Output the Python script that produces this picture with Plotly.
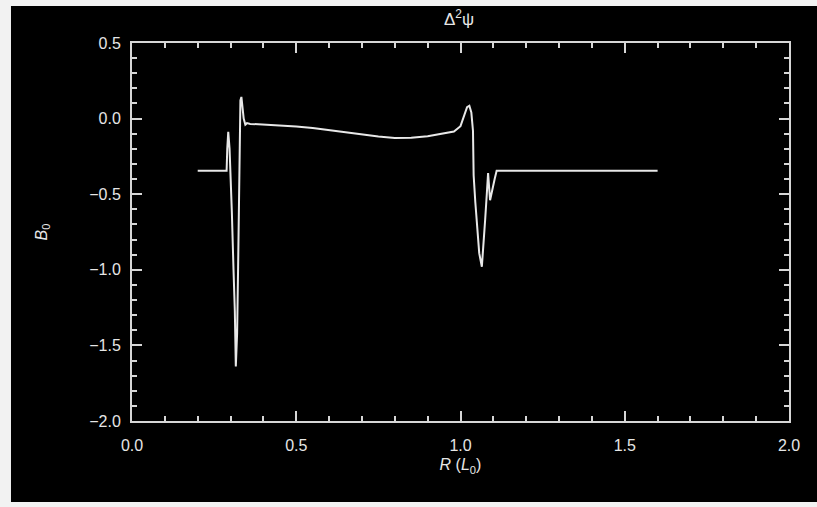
import plotly.graph_objects as go

# Data: R (L0) vs value
r_vals = [0.20, 0.288, 0.290, 0.293, 0.297, 0.300, 0.304, 0.309, 0.313, 0.316, 0.320,
          0.323, 0.327, 0.330, 0.333, 0.336, 0.340, 0.345, 0.350, 0.360, 0.37,
          0.45, 0.50, 0.55, 0.60, 0.65, 0.70, 0.75, 0.80, 0.85, 0.90, 0.95,
          0.98, 1.00, 1.01, 1.02, 1.027, 1.033, 1.038, 1.040, 1.045, 1.049,
          1.057, 1.065, 1.070, 1.075, 1.080, 1.084, 1.090, 1.095, 1.099, 1.104,
          1.110, 1.60]
b_vals = [-0.345, -0.345, -0.20, -0.087, -0.20, -0.35, -0.62, -1.00, -1.27, -1.64, -1.42,
          -0.98, -0.31, 0.12, 0.143, 0.06, 0.00, -0.04, -0.03, -0.035, -0.036,
          -0.045, -0.052, -0.062, -0.076, -0.090, -0.105, -0.118, -0.128, -0.126, -0.116, -0.100,
          -0.086, -0.05, 0.02, 0.075, 0.085, 0.04, -0.08, -0.375, -0.55, -0.65,
          -0.89, -0.98, -0.85, -0.67, -0.50, -0.36, -0.54, -0.48, -0.45, -0.40,
          -0.345, -0.345]

x_ticks = [0.0, 0.5, 1.0, 1.5, 2.0]
x_labels = ["0.0", "0.5", "1.0", "1.5", "2.0"]
y_ticks = [-2.0, -1.5, -1.0, -0.5, 0.0, 0.5]
y_labels = ["\u22122.0", "\u22121.5", "\u22121.0", "\u22120.5", "0.0", "0.5"]

FONT = "Liberation Sans"
AX = "#d6d6d6"
TXT = "#e6e6e6"

fig = go.Figure()
fig.add_trace(go.Scatter(x=r_vals, y=b_vals, mode="lines",
                         line=dict(color="#e8e8e8", width=2), showlegend=False,
                         hoverinfo="skip"))

axis_common = dict(showline=True, linecolor=AX, linewidth=2, mirror="allticks",
                   ticks="inside", ticklen=10, tickwidth=1.5, tickcolor=AX,
                   showgrid=False, zeroline=False,
                   tickfont=dict(family=FONT, size=16, color=TXT))

fig.update_xaxes(range=[0, 2.0], tickvals=x_ticks, ticktext=x_labels,
                 minor=dict(dtick=0.1, ticks="inside", ticklen=5, tickwidth=1.5, tickcolor=AX),
                 ticklabelstandoff=9,
                 title=dict(text="<i>R</i> (<i>L</i><sub>0</sub>)",
                            font=dict(family=FONT, size=16, color=TXT), standoff=6),
                 **axis_common)
fig.update_yaxes(range=[-2.0, 0.5], tickvals=y_ticks, ticktext=y_labels,
                 minor=dict(dtick=0.1, ticks="inside", ticklen=5, tickwidth=1.5, tickcolor=AX),
                 ticklabelstandoff=6,
                 title=dict(text="<i>B</i><sub>0</sub>",
                            font=dict(family=FONT, size=16, color=TXT), standoff=38),
                 **axis_common)

fig.add_annotation(text="\u0394<sup>2</sup>\u03c8", xref="paper", yref="paper",
                   x=0.497, y=1.065, xanchor="center", yanchor="middle", showarrow=False,
                   font=dict(family=FONT, size=17, color=TXT))

# white page edges visible in the reference screenshot
for (x0, x1, y0, y1) in [(-0.3, -0.1842, -0.5, 1.5), (-0.3, 1.2, 1.0979, 1.5),
                         (-0.3, 1.2, -0.5, -0.2143)]:
    fig.add_shape(type="rect", xref="paper", yref="paper", x0=x0, x1=x1, y0=y0, y1=y1,
                  fillcolor="#f2f2f2", line=dict(width=0), layer="above")

fig.update_layout(width=817, height=507, paper_bgcolor="black", plot_bgcolor="black",
                  margin=dict(l=132, r=28, t=43, b=86), showlegend=False)

fig.write_html("out.html")
